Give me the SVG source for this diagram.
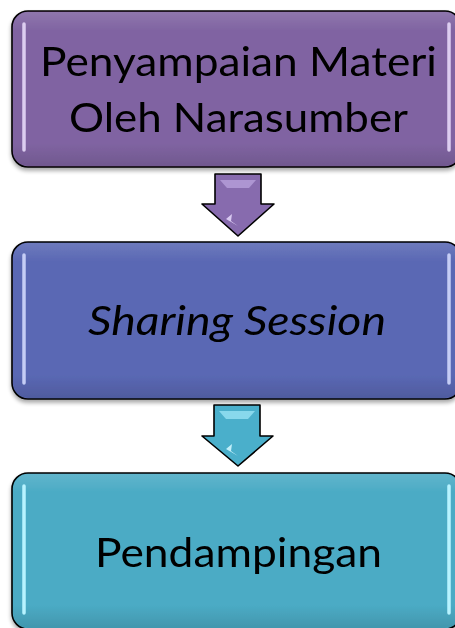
<svg xmlns="http://www.w3.org/2000/svg" width="455" height="628" viewBox="0 0 455 628">
  <defs>
    <linearGradient id="shade" x1="0" y1="0" x2="0" y2="1">
      <stop offset="0" stop-color="#ffffff" stop-opacity="0.12"/>
      <stop offset="0.12" stop-color="#ffffff" stop-opacity="0"/>
      <stop offset="0.85" stop-color="#000000" stop-opacity="0"/>
      <stop offset="1" stop-color="#000000" stop-opacity="0.12"/>
    </linearGradient>
    <filter id="shadow" x="-5%" y="-5%" width="110%" height="115%">
      <feGaussianBlur in="SourceAlpha" stdDeviation="2"/>
      <feOffset dx="0" dy="3" result="b"/>
      <feComponentTransfer><feFuncA type="linear" slope="0.35"/></feComponentTransfer>
      <feMerge><feMergeNode/><feMergeNode in="SourceGraphic"/></feMerge>
    </filter>
  </defs>
  <style>
    .box { stroke: #000; stroke-width: 1.6; }
    .gloss { fill: url(#shade); stroke: none; }
    .label { font-family: Lato, "Open Sans", "Liberation Sans", sans-serif; font-size: 41px; fill: #000; text-anchor: middle; }
    .arrow { stroke: #000; stroke-width: 1.6; stroke-linejoin: round; }
    .stripe { stroke-width: 3.5; stroke-linecap: round; }
  </style>

  <g id="node-penyampaian" filter="url(#shadow)">
    <rect class="box" x="12" y="11" width="449" height="156" rx="16" fill="#8064A2"/>
    <rect class="gloss" x="13" y="12" width="447" height="154" rx="15"/>
    <line class="stripe" x1="24" y1="24" x2="24" y2="150" stroke="#DCCDF0"/>
    <line class="stripe" x1="449" y1="24" x2="449" y2="150" stroke="#DCCDF0"/>
    <text class="label" x="238.5" y="76" textLength="397" lengthAdjust="spacingAndGlyphs">Penyampaian Materi</text>
    <text class="label" x="238.5" y="132" textLength="339" lengthAdjust="spacingAndGlyphs">Oleh Narasumber</text>
  </g>

  <g id="node-sharing" filter="url(#shadow)">
    <rect class="box" x="12" y="242" width="449" height="157" rx="16" fill="#5A68B4"/>
    <rect class="gloss" x="13" y="243" width="447" height="155" rx="15"/>
    <line class="stripe" x1="24" y1="255" x2="24" y2="383" stroke="#C5CDF5"/>
    <line class="stripe" x1="449" y1="255" x2="449" y2="383" stroke="#C5CDF5"/>
    <text class="label" x="237" y="335" font-style="italic" textLength="298" lengthAdjust="spacingAndGlyphs">Sharing Session</text>
  </g>

  <g id="node-pendampingan" filter="url(#shadow)">
    <rect class="box" x="12" y="473" width="449" height="156" rx="16" fill="#4BABC5"/>
    <rect class="gloss" x="13" y="474" width="447" height="154" rx="15"/>
    <line class="stripe" x1="24" y1="486" x2="24" y2="613" stroke="#B8F3FF"/>
    <line class="stripe" x1="449" y1="486" x2="449" y2="613" stroke="#B8F3FF"/>
    <text class="label" x="238.5" y="567" textLength="287" lengthAdjust="spacingAndGlyphs">Pendampingan</text>
  </g>

  <g id="connectors">
    <g id="arrow-1">
      <polygon class="arrow" points="215,174 261,174 261,204 274,204 238,236 202,204 215,204" fill="#876BAE"/>
      <polygon points="220,180 256,180 249,188 227,188" fill="#B49CD8" opacity="0.85"/>
      <polygon points="226,219 232,214 231,221 238,226" fill="#E2D4F8" opacity="0.9"/>
    </g>
    <g id="arrow-2">
      <polygon class="arrow" points="214,405 260,405 260,436 273,436 238,466 202,436 214,436" fill="#4AAFCB"/>
      <polygon points="219,411 255,411 248,419 226,419 " fill="#8FDDF0" opacity="0.9"/>
      <polygon points="226,449 232,444 231,451 238,456" fill="#CFF6FF" opacity="0.9"/>
    </g>
  </g>
</svg>
